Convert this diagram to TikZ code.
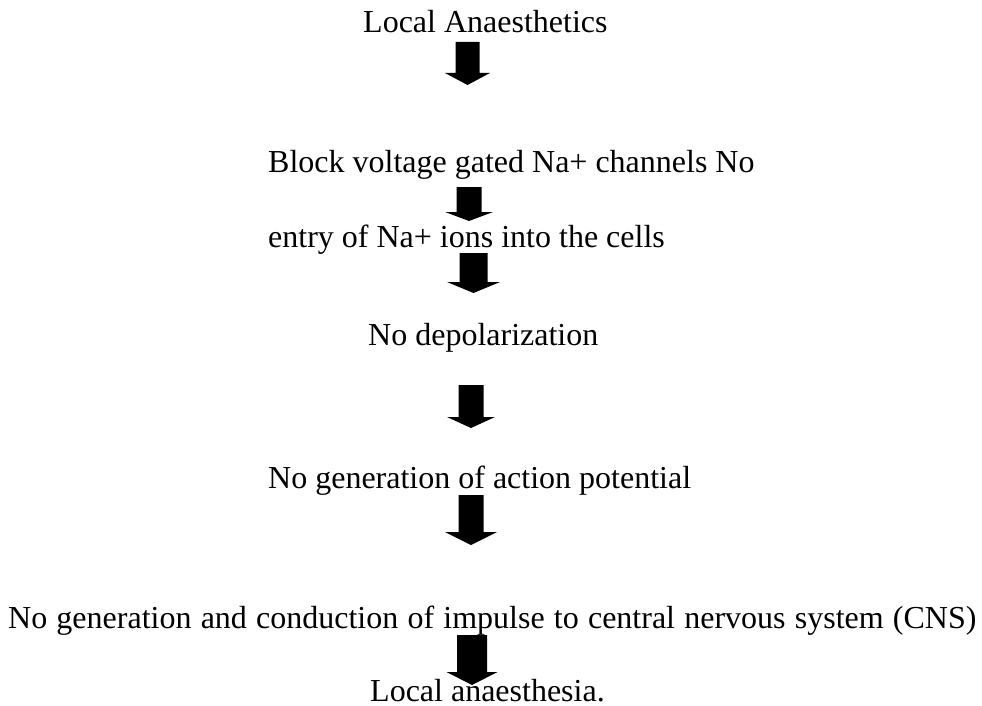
\documentclass[tikz,border=0pt]{standalone}
\usepackage{fontspec}
\setmainfont{Liberation Serif}
\tikzset{
  txt/.style={anchor=base west, inner sep=0pt, font=\fontsize{32}{38}\selectfont},
  blockarr/.style={fill=black, draw=none}
}
% #1 centre x, #2 top, #3 shaft half width, #4 head base, #5 head half width, #6 tip
\newcommand{\myblockarrow}[6]{%
  \fill[blockarr] (#1-#3,#2) -- (#1+#3,#2) -- (#1+#3,#4) -- (#1+#5,#4) -- (#1,#6) -- (#1-#5,#4) -- (#1-#3,#4) -- cycle;}
\begin{document}
\begin{tikzpicture}[x=1pt,y=-1pt]
\useasboundingbox (0,0) rectangle (982,706);
\fill[white] (0,0) rectangle (982,706);
\node[txt] (t1) at (363,33) {Local Anaesthetics};
\node[txt] (t2) at (268,172) {Block voltage gated Na+ channels No};
\node[txt] (t3) at (268,247) {entry of Na+ ions into the cells};
\node[txt] (t4) at (368,345) {No depolarization};
\node[txt] (t5) at (268,488) {No generation of action potential};
\node[txt] (t6) at (8,628) {\spaceskip=9.2pt\relax No generation and conduction of impulse to central nervous system (CNS)};
\node[txt] (t7) at (370,701) {Local anaesthesia.};
\myblockarrow{467.5}{42}{12}{73}{22.5}{85}
\myblockarrow{469}{187}{12.5}{212}{24}{221}
\myblockarrow{473.5}{253}{14}{282}{26.5}{293}
\myblockarrow{471}{385}{12.5}{417}{24}{428}
\myblockarrow{471}{495}{12.5}{532}{26}{545}
\myblockarrow{472}{635}{15}{672}{25.5}{685}
\end{tikzpicture}
\end{document}
